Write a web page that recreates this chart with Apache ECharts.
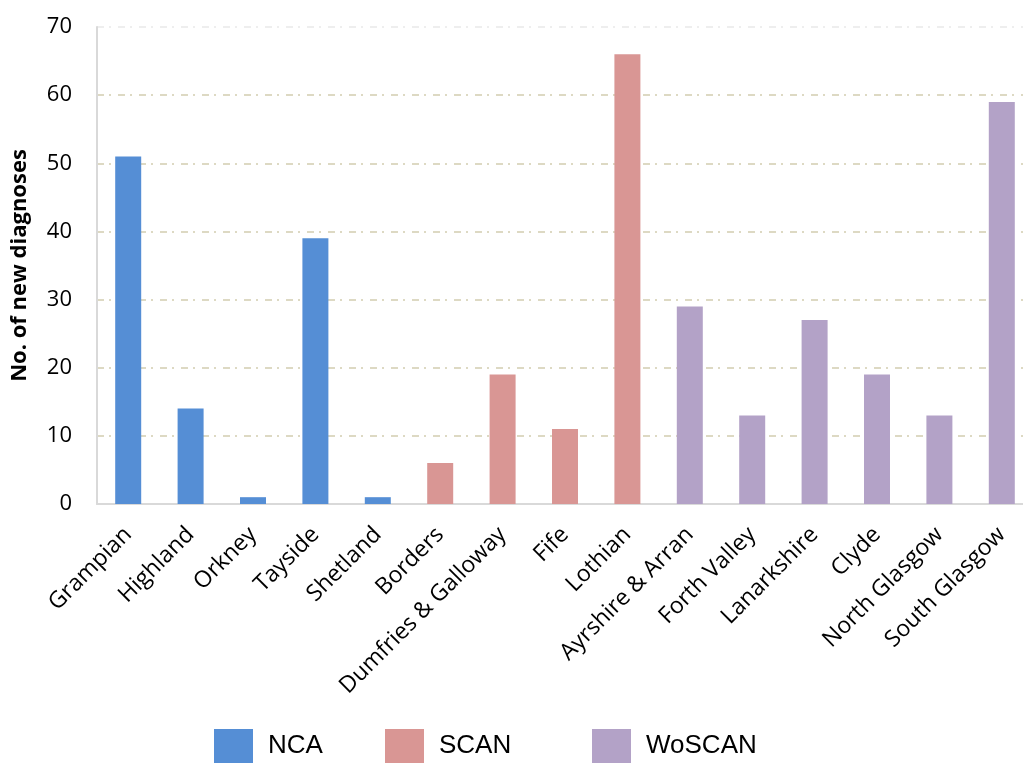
<!DOCTYPE html>
<html>
<head>
<meta charset="utf-8">
<script src="https://cdn.jsdelivr.net/npm/echarts@6/dist/echarts.min.js"></script>
<style>
  html, body { margin: 0; padding: 0; background: #ffffff; }
  #chart { width: 1023px; height: 764px; }
</style>
</head>
<body>
<div id="chart"></div>
<script>
// Health boards, grouped by regional cancer network
const categories = ['Grampian', 'Highland', 'Orkney', 'Tayside', 'Shetland',
  'Borders', 'Dumfries & Galloway', 'Fife', 'Lothian',
  'Ayrshire & Arran', 'Forth Valley', 'Lanarkshire', 'Clyde', 'North Glasgow', 'South Glasgow'];

// New diagnoses per board ('-' where the board is not in that network)
const ncaValues    = [51, 14, 1, 39, 1, '-', '-', '-', '-', '-', '-', '-', '-', '-', '-'];
const scanValues   = ['-', '-', '-', '-', '-', 6, 19, 11, 66, '-', '-', '-', '-', '-', '-'];
const woscanValues = ['-', '-', '-', '-', '-', '-', '-', '-', '-', 29, 13, 27, 19, 13, 59];

const seriesNames = ['NCA', 'SCAN', 'WoSCAN'];
const seriesColors = ['#558ED5', '#D99694', '#B3A2C7'];

const labelFont = '"Open Sans", sans-serif';
const gridColor = '#DDD9C3';

function legendFor(i, left) {
  return {
    data: [seriesNames[i]],
    left: left,
    top: 729,
    padding: 0,
    itemWidth: 39,
    itemHeight: 34,
    icon: 'rect',
    textStyle: {
      fontFamily: '"Liberation Sans", Arial, sans-serif',
      fontSize: 26,
      color: '#000',
      padding: [0, 0, 0, 10]
    }
  };
}

const chart = echarts.init(document.getElementById('chart'), null, { renderer: 'canvas' });
chart.setOption({
  animation: false,
  backgroundColor: '#ffffff',
  legend: [legendFor(0, 214), legendFor(1, 385), legendFor(2, 592)],
  grid: {
    left: 97, top: 27, width: 936, height: 477,
    containLabel: false,
    outerBoundsMode: 'none'
  },
  xAxis: {
    type: 'category',
    data: categories,
    axisLine: { lineStyle: { color: '#D9D9D9', width: 2 } },
    axisTick: { show: false },
    axisLabel: {
      rotate: 45,
      interval: 0,
      margin: 27,
      fontFamily: labelFont,
      fontSize: 23,
      color: '#000'
    }
  },
  yAxis: {
    type: 'value',
    min: 0,
    max: 70,
    interval: 10,
    name: 'No. of new diagnoses',
    nameLocation: 'middle',
    nameGap: 66,
    nameTextStyle: { fontFamily: labelFont, fontSize: 22, fontWeight: 'bold', color: '#000' },
    axisLine: { show: true, lineStyle: { color: '#D9D9D9', width: 2 } },
    axisTick: { show: false },
    axisLabel: { margin: 25, fontFamily: labelFont, fontSize: 22, color: '#000' },
    splitLine: {
      lineStyle: {
        color: [gridColor, gridColor, gridColor, gridColor, gridColor, gridColor, gridColor, '#EEEEEE'],
        width: 2,
        type: [7, 5, 2, 7]
      }
    }
  },
  series: [ncaValues, scanValues, woscanValues].map((vals, i) => ({
    name: seriesNames[i],
    type: 'bar',
    stack: 'boards',
    barWidth: 26,
    data: vals,
    itemStyle: { color: seriesColors[i] }
  }))
});
</script>
</body>
</html>
